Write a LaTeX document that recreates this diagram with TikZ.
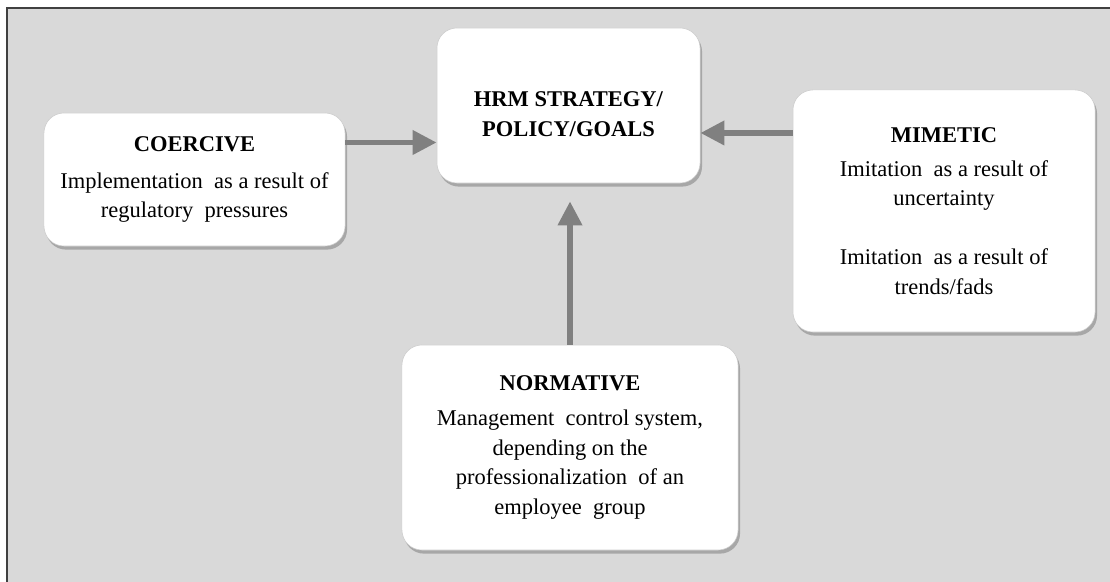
\documentclass[tikz,border=0pt]{standalone}
\usepackage{fontspec}
\setmainfont{Liberation Serif}
\usetikzlibrary{arrows.meta,shadows}

\tikzset{
  box/.style={rectangle, rounded corners=0.5cm, fill=white, draw=black!20, thin,
    align=center, font=\fontsize{16}{21}\selectfont,
    drop shadow={shadow xshift=0.5mm, shadow yshift=-0.9mm, opacity=0.35, fill=black!70}},
  flow/.style={draw=black!50, line width=4.2pt, -{Triangle[length=0.6cm,width=0.58cm]}},
}

\begin{document}
\begin{tikzpicture}[x=0.025cm,y=-0.025cm]
\useasboundingbox (0,0) rectangle (1110,582);
\clip (0,0) rectangle (1110,582);
% frame
\draw[fill=black!15, draw=black!75, line width=1.6pt] (7,8) rectangle (1130,600);

% boxes
\node[box, minimum width=6.575cm, minimum height=3.875cm] (hrm) at (568.5,105.5)
  {\raisebox{-0.25cm}[\height][\depth]{\begin{tabular}{@{}c@{}}\textbf{HRM STRATEGY/}\\ \textbf{POLICY/GOALS}\end{tabular}}};
\node[box, minimum width=7.525cm, minimum height=3.325cm] (coercive) at (194.5,179.5)
  {\textbf{COERCIVE}\\[5pt] Implementation~ as a result of\\ regulatory~ pressures};
\node[box, minimum width=7.55cm, minimum height=6.05cm] (mimetic) at (944,211)
  {\textbf{MIMETIC}\\[3pt] Imitation~ as a result of\\ uncertainty\\[21pt]
   Imitation~ as a result of\\ trends/fads};
\node[box, minimum width=8.4cm, minimum height=5.125cm] (normative) at (570,447.5)
  {\textbf{NORMATIVE}\\[4pt] Management~ control system,\\ depending on the\\
   professionalization~ of an\\ employee~ group};

% arrows
\draw[flow] ([yshift=0.925cm]coercive.east) -- ([yshift=0.925cm]coercive.east -| hrm.west);
\draw[flow] ([yshift=1.95cm]mimetic.west) -- ([yshift=1.95cm]mimetic.west -| hrm.east);
\draw[flow, shorten >=0.45cm] (normative.north) -- (normative.north |- hrm.south);
\end{tikzpicture}
\end{document}
